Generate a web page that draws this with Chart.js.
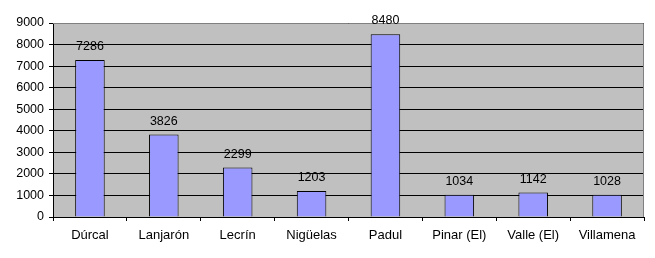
<!DOCTYPE html>
<html>
<head>
<meta charset="utf-8">
<script src="https://cdn.jsdelivr.net/npm/chart.js@4"></script>
<style>
  html, body { margin: 0; padding: 0; background: #ffffff; }
  #wrap { width: 655px; height: 258px; }
</style>
</head>
<body>
<div id="wrap"><canvas id="chart" width="655" height="258"></canvas></div>
<script>
// Municipalities and their values
const categories = ['Dúrcal', 'Lanjarón', 'Lecrín', 'Nigüelas', 'Padul', 'Pinar (El)', 'Valle (El)', 'Villamena'];
const values = [7286, 3826, 2299, 1203, 8480, 1034, 1142, 1028];
const yTicks = [0, 1000, 2000, 3000, 4000, 5000, 6000, 7000, 8000, 9000];

const FAMILY = '"Liberation Sans", Arial, sans-serif';
const NUM_FONT = { family: FAMILY, size: 12.5 };
const CAT_FONT = { family: FAMILY, size: 13 };

// Grey plot area with frame
const plotBackground = {
    id: 'plotBackground',
    beforeDraw(chart) {
        const { ctx, chartArea: a } = chart;
        ctx.save();
        ctx.fillStyle = '#c0c0c0';
        ctx.fillRect(a.left, a.top, a.right - a.left, a.bottom - a.top);
        ctx.restore();
    },
    afterDatasetsDraw(chart) {
        const { ctx, chartArea: a } = chart;
        ctx.save();
        ctx.strokeStyle = '#808080';
        ctx.lineWidth = 1;
        ctx.beginPath();
        ctx.moveTo(a.left, a.top + 0.5);
        ctx.lineTo(a.right - 0.5, a.top + 0.5);
        ctx.lineTo(a.right - 0.5, a.bottom);
        ctx.stroke();
        ctx.restore();
    }
};

// Value labels above each bar
const valueLabels = {
    id: 'valueLabels',
    afterDatasetsDraw(chart) {
        const { ctx } = chart;
        const meta = chart.getDatasetMeta(0);
        ctx.save();
        ctx.fillStyle = '#000000';
        ctx.font = NUM_FONT.size + 'px ' + FAMILY;
        ctx.textAlign = 'center';
        ctx.textBaseline = 'bottom';
        meta.data.forEach((bar, i) => {
            ctx.fillText(String(values[i]), bar.x, bar.y - 7);
        });
        ctx.restore();
    }
};

new Chart(document.getElementById('chart'), {
    type: 'bar',
    data: {
        labels: categories,
        datasets: [{
            data: values,
            backgroundColor: '#9999ff',
            borderColor: '#000000',
            borderWidth: 1,
            barPercentage: 0.4,
            categoryPercentage: 1.0
        }]
    },
    options: {
        responsive: false,
        animation: false,
        layout: { padding: { top: 23, right: 11, left: 0, bottom: 0 } },
        plugins: {
            legend: { display: false },
            tooltip: { enabled: false }
        },
        scales: {
            x: {
                offset: true,
                grid: {
                    offset: true,
                    drawOnChartArea: false,
                    drawTicks: true,
                    tickLength: 4,
                    color: '#000000'
                },
                border: { color: '#000000' },
                ticks: { color: '#000000', font: CAT_FONT, padding: 7, maxRotation: 0, autoSkip: false },
                afterFit(scale) { scale.height = 41; }
            },
            y: {
                min: 0,
                max: 9000,
                afterBuildTicks(scale) { scale.ticks = yTicks.map(v => ({ value: v })); },
                grid: {
                    color: '#000000',
                    tickLength: 4
                },
                border: { color: '#000000' },
                ticks: {
                    color: '#000000',
                    font: NUM_FONT,
                    padding: 5,
                    callback: (v) => String(v)
                },
                afterFit(scale) { scale.width = 53; }
            }
        }
    },
    plugins: [plotBackground, valueLabels]
});
</script>
</body>
</html>
